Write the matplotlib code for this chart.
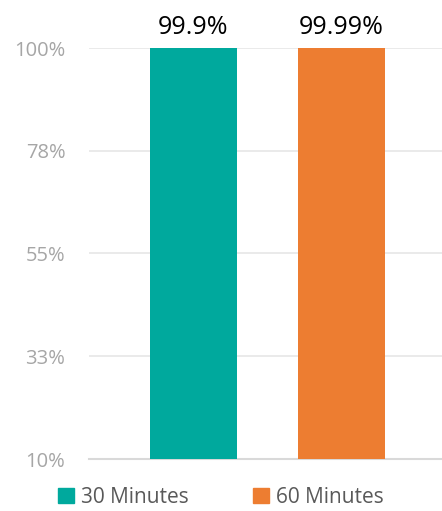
import matplotlib.pyplot as plt
from matplotlib.patches import Patch

plt.rcParams['font.family'] = ['Open Sans', 'DejaVu Sans']

series = ['30 Minutes', '60 Minutes']
values = [99.9, 99.99]
labels = ['99.9%', '99.99%']
colors = ['#00a99d', '#ed7d31']
yticks = [10, 32.5, 55, 77.5, 100]
ytick_labels = ['10%', '33%', '55%', '78%', '100%']

fig = plt.figure(figsize=(4.42, 5.11), dpi=100)
ax = fig.add_axes([89 / 442, 1 - 459 / 511, 1 - 89 / 442, (459 - 48) / 511])

x = list(range(len(values)))
ax.bar(x, values, width=0.588, color=colors, zorder=3)
for xi, v, lab in zip(x, values, labels):
    ax.text(xi, 100 + 4.5, lab, ha='center', va='center', fontsize=18, color='black')

ax.set_ylim(10, 100)
ax.set_xlim(-0.706, 1.679)
ax.set_yticks(yticks)
ax.set_yticklabels(ytick_labels, fontsize=14.5, color='#a6a6a6')
ax.set_xticks([])
ax.tick_params(axis='y', length=0, pad=17)
ax.grid(axis='y', color='#e6e6e6', linewidth=1.2, zorder=0)
for s in ax.spines.values():
    s.set_visible(False)
ax.axhline(10, color='#d9d9d9', linewidth=1.5, zorder=2, clip_on=False)

handles = [Patch(color=c) for c in colors]
fig.legend(handles, series, loc='center', bbox_to_anchor=(221 / 442, 1 - 497 / 511),
           ncol=2, frameon=False, fontsize=15, labelcolor='#595959',
           handlelength=0.75, handleheight=0.75, handletextpad=0.35, columnspacing=3.1)

fig.savefig('out.png', dpi=100)
